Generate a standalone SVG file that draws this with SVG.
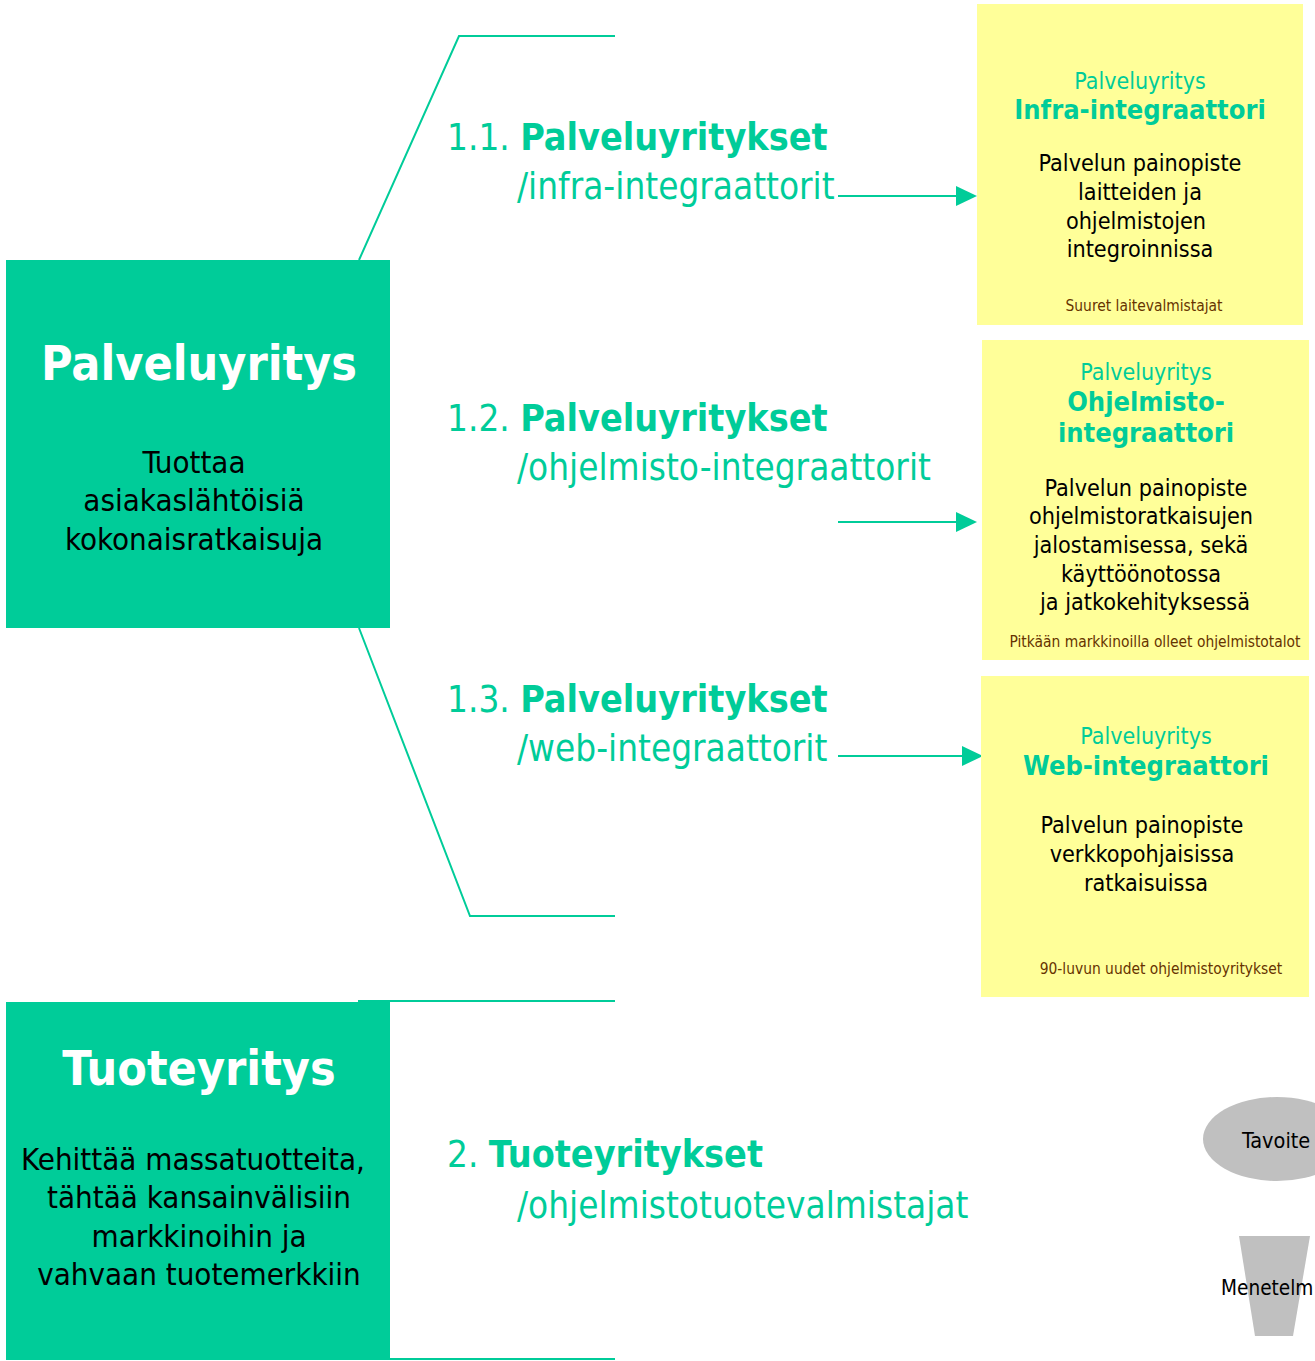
<svg xmlns="http://www.w3.org/2000/svg" width="1315" height="1361" viewBox="0 0 1315 1361">
<defs>
<style>
text{font-family:"DejaVu Sans Condensed","DejaVu Sans",sans-serif;font-stretch:condensed}
.g{fill:#00CC99}
.w{fill:#fff;font-weight:bold;font-size:48px;text-anchor:middle}
.k{fill:#000;font-size:31px;text-anchor:middle}
.h{fill:#00CC99;font-size:36.6px}
.b{font-weight:bold;font-size:37.4px}
.yt{fill:#00CC99;font-size:23px;text-anchor:middle}
.yb{fill:#00CC99;font-size:27px;font-weight:bold;text-anchor:middle}
.yk{fill:#000;font-size:23.2px;text-anchor:middle}
.yf{fill:#663300;font-size:15.4px;text-anchor:middle}
.ln{fill:none;stroke:#00CC99;stroke-width:2}
.yel{fill:#FFFF99}
.gr{fill:#C0C0C0}
.s{fill:#000;font-size:21.5px}
</style>
</defs>
<rect width="1315" height="1361" fill="#fff"/>
<g id="connectors">
<polyline class="ln" points="359,260 459,36 615,36"/>
<polyline class="ln" points="359,628 470,916 615,916"/>
<line class="ln" x1="358" y1="1001" x2="615" y2="1001"/>
<line class="ln" x1="390" y1="1359" x2="615" y2="1359"/>
<path d="M838,196 H958" class="ln"/><path d="M956,186 L977,196 L956,206 z" class="g"/>
<path d="M838,522 H958" class="ln"/><path d="M956,512 L977,522 L956,532 z" class="g"/>
<path d="M838,756 H964" class="ln"/><path d="M962,746 L983,756 L962,766 z" class="g"/>
</g>
<g id="palveluyritys">
<rect x="6" y="260" width="384" height="368" class="g"/>
<text x="199" y="380" class="w">Palveluyritys</text>
<text x="194" y="473" class="k">Tuottaa</text>
<text x="194" y="511" class="k">asiakaslähtöisiä</text>
<text x="194" y="550" class="k">kokonaisratkaisuja</text>
</g>
<g id="tuoteyritys">
<rect x="6" y="1002" width="384" height="358" class="g"/>
<text x="199" y="1085" class="w">Tuoteyritys</text>
<text x="193" y="1170" class="k">Kehittää massatuotteita,</text>
<text x="199" y="1208" class="k">tähtää kansainvälisiin</text>
<text x="199" y="1247" class="k">markkinoihin ja</text>
<text x="199" y="1285" class="k">vahvaan tuotemerkkiin</text>
</g>
<g id="label-1-1">
<text x="447" y="150" class="h">1.1. <tspan class="b">Palveluyritykset</tspan></text>
<text x="517" y="199" class="h">/infra-integraattorit</text>
</g>
<g id="label-1-2">
<text x="447" y="431" class="h">1.2. <tspan class="b">Palveluyritykset</tspan></text>
<text x="517" y="480" class="h">/ohjelmisto-integraattorit</text>
</g>
<g id="label-1-3">
<text x="447" y="712" class="h">1.3. <tspan class="b">Palveluyritykset</tspan></text>
<text x="517" y="761" class="h">/web-integraattorit</text>
</g>
<g id="label-2">
<text x="447" y="1167" class="h">2. <tspan class="b">Tuoteyritykset</tspan></text>
<text x="517" y="1218" class="h">/ohjelmistotuotevalmistajat</text>
</g>
<g id="infra">
<rect x="977" y="4" width="326" height="321" class="yel"/>
<text x="1140" y="89" class="yt">Palveluyritys</text>
<text x="1140" y="119" class="yb">Infra-integraattori</text>
<text x="1140" y="171" class="yk">Palvelun painopiste</text>
<text x="1140" y="200" class="yk">laitteiden ja</text>
<text x="1136" y="229" class="yk">ohjelmistojen</text>
<text x="1140" y="257" class="yk">integroinnissa</text>
<text x="1144" y="311" class="yf">Suuret laitevalmistajat</text>
</g>
<g id="ohjelmisto">
<rect x="982" y="340" width="327" height="320" class="yel"/>
<text x="1146" y="380" class="yt">Palveluyritys</text>
<text x="1146" y="411" class="yb">Ohjelmisto-</text>
<text x="1146" y="442" class="yb">integraattori</text>
<text x="1146" y="496" class="yk">Palvelun painopiste</text>
<text x="1141" y="524" class="yk">ohjelmistoratkaisujen</text>
<text x="1141" y="553" class="yk">jalostamisessa, sekä</text>
<text x="1141" y="582" class="yk">käyttöönotossa</text>
<text x="1145" y="610" class="yk">ja jatkokehityksessä</text>
<text x="1155" y="647" class="yf">Pitkään markkinoilla olleet ohjelmistotalot</text>
</g>
<g id="web">
<rect x="981" y="676" width="328" height="321" class="yel"/>
<text x="1146" y="744" class="yt">Palveluyritys</text>
<text x="1146" y="775" class="yb">Web-integraattori</text>
<text x="1142" y="833" class="yk">Palvelun painopiste</text>
<text x="1142" y="862" class="yk">verkkopohjaisissa</text>
<text x="1146" y="891" class="yk">ratkaisuissa</text>
<text x="1161" y="974" class="yf">90-luvun uudet ohjelmistoyritykset</text>
</g>
<g id="tavoite">
<ellipse cx="1277" cy="1139" rx="74" ry="42" class="gr"/>
<text x="1242" y="1148" class="s">Tavoite</text>
</g>
<g id="menetelma">
<polygon points="1239,1236 1310,1236 1293,1336 1255,1336" class="gr"/>
<text x="1221" y="1295" class="s" style="font-size:20.6px">Menetelm</text>
</g>
</svg>
